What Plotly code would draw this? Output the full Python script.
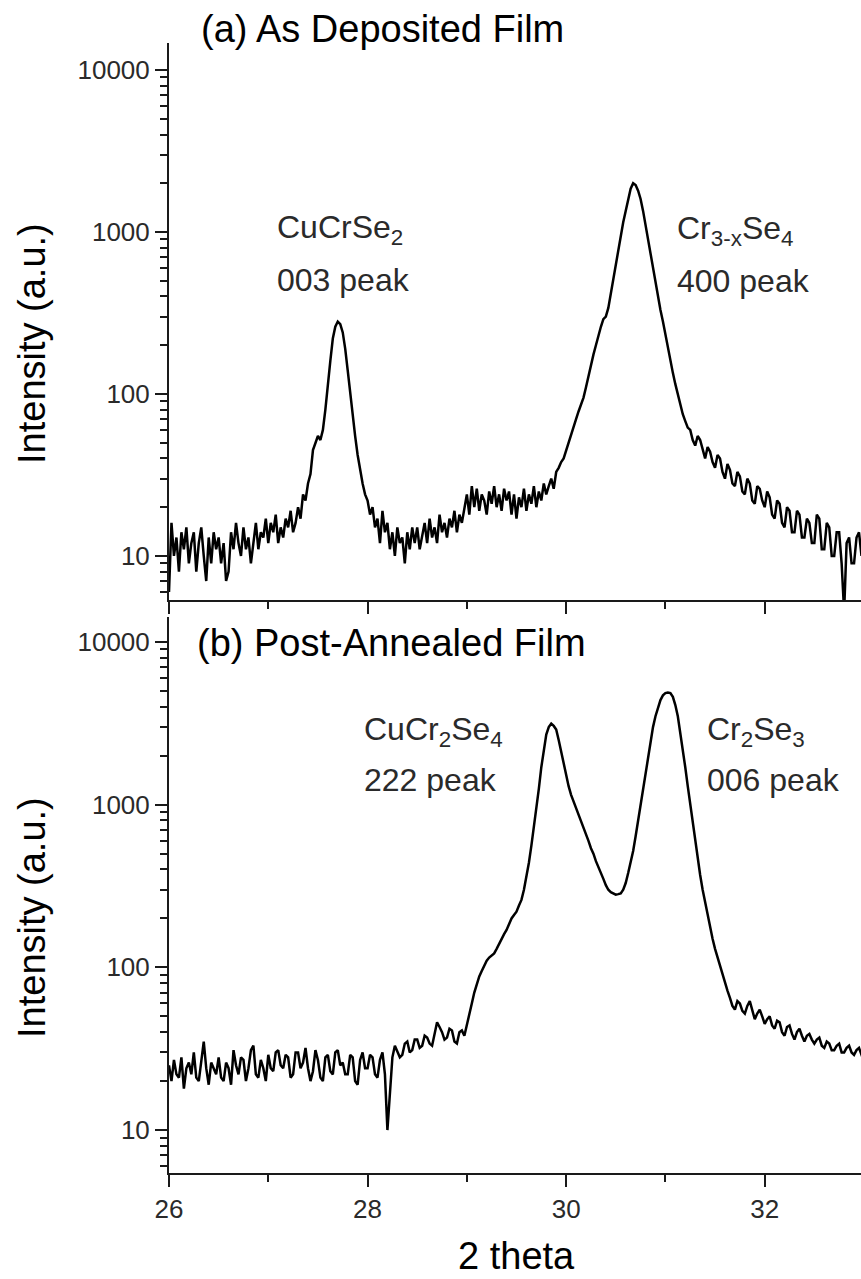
import numpy as np
import plotly.graph_objects as go

# ---- data ----
two_theta = np.round(np.arange(26.0, 33.0001, 0.025), 3)

intensity_as_deposited = [
    6, 16, 10, 13, 8, 14, 11, 15, 9, 12, 14, 8, 12, 15, 10, 7, 13, 9, 14, 11,
    13, 9, 12, 7, 8, 14, 11, 16, 12, 10, 15, 11, 13, 9, 12, 16, 11, 14, 13, 17,
    12, 16, 14, 18, 12, 15, 13, 17, 15, 19, 14, 16, 20, 17, 24, 22, 28, 32, 45, 50,
    55, 52, 60, 80, 120, 160, 220, 260, 280, 270, 240, 190, 140, 100, 75, 55, 42, 34, 28, 24,
    22, 18, 20, 15, 17, 12, 19, 14, 16, 11, 14, 10, 15, 12, 13, 9, 14, 11, 15, 12,
    15, 11, 13, 16, 12, 17, 13, 15, 12, 18, 14, 16, 13, 17, 15, 19, 14, 18, 16, 20,
    24, 18, 27, 20, 26, 19, 24, 22, 18, 25, 21, 27, 20, 24, 19, 26, 22, 25, 18, 24,
    17, 23, 20, 26, 19, 24, 21, 27, 20, 25, 22, 28, 24, 27, 30, 26, 33, 35, 38, 40,
    45, 50, 55, 62, 70, 78, 85, 95, 110, 130, 150, 175, 200, 230, 260, 290, 300, 340, 420, 500,
    620, 780, 950, 1150, 1350, 1600, 1850, 2000, 1950, 1800, 1600, 1350, 1100, 920, 750, 600, 480, 400, 330, 280,
    230, 190, 160, 135, 115, 100, 85, 75, 68, 62, 60, 52, 48, 55, 52, 45, 40, 47, 44, 38,
    35, 42, 40, 33, 30, 37, 34, 28, 27, 33, 31, 25, 24, 30, 28, 22, 21, 27, 26, 22,
    20, 25, 23, 18, 17, 22, 21, 16, 15, 20, 19, 14, 14, 19, 18, 13, 13, 17, 16, 12,
    12, 18, 17, 11, 11, 16, 15, 10, 10, 14, 14, 9, 4.5, 12, 13, 9, 9, 13, 14, 10,
    12,
]

intensity_post_annealed = [
    25, 20, 27, 22, 21, 28, 18, 24, 26, 22, 30, 21, 20, 27, 35, 24, 19, 26, 24, 22,
    28, 21, 20, 26, 24, 19, 31, 25, 22, 28, 27, 20, 24, 31, 33, 22, 21, 27, 24, 20,
    29, 24, 23, 30, 31, 25, 24, 29, 28, 21, 22, 30, 30, 24, 26, 32, 24, 20, 23, 31,
    27, 21, 20, 28, 29, 23, 22, 30, 31, 25, 26, 22, 22, 29, 28, 20, 19, 27, 30, 24,
    24, 29, 28, 22, 21, 27, 30, 22, 10, 18, 28, 33, 30, 28, 29, 34, 35, 30, 31, 36,
    36, 32, 33, 38, 37, 34, 33, 40, 46, 43, 40, 36, 37, 42, 41, 35, 34, 40, 41, 38,
    45, 52, 60, 70, 80, 88, 95, 102, 110, 115, 118, 122, 130, 140, 150, 160, 170, 185, 200, 210,
    220, 240, 260, 300, 360, 440, 560, 720, 950, 1250, 1700, 2200, 2700, 3000, 3150, 3050, 2900, 2500, 2100, 1750,
    1500, 1300, 1150, 1050, 950, 860, 780, 720, 650, 600, 540, 500, 450, 410, 380, 350, 320, 300, 290, 285,
    280, 282, 285, 300, 330, 380, 440, 520, 640, 800, 1000, 1250, 1600, 2000, 2500, 3000, 3500, 4000, 4400, 4700,
    4850, 4900, 4850, 4600, 4100, 3500, 2800, 2200, 1700, 1300, 1000, 780, 600, 470, 370, 300, 250, 210, 175, 150,
    130, 115, 100, 90, 80, 72, 65, 58, 55, 62, 60, 54, 52, 58, 62, 55, 48, 52, 55, 50,
    45, 48, 50, 44, 42, 47, 46, 40, 38, 43, 44, 39, 36, 40, 42, 38, 35, 38, 39, 36,
    34, 36, 37, 33, 32, 35, 34, 31, 31, 33, 34, 30, 30, 32, 33, 30, 29, 31, 32, 29,
    30,
]

panel_titles = ["(a) As Deposited Film", "(b) Post-Annealed Film"]
x_major_ticks = [26, 28, 30, 32]
x_minor_ticks = [27, 29, 31]
y_major_ticks = [10, 100, 1000, 10000]
y_major_text = ["10", "100", "1000", "10000"]
y_minor_ticks = [k * 10 ** d for d in range(0, 5) for k in range(2, 10)]

# ---- layout helpers (pixel -> paper) ----
W, H = 861, 1279
ML, MR, MT, MB = 169, 0, 43, 106
PW, PH = W - ML - MR, H - MT - MB


def px(x):
    return (x - ML) / PW


def py(y):
    return (H - MB - y) / PH


FONT = "Liberation Sans, Arial, sans-serif"
INK = "#1a1a1a"
TXT = "#2a2a2a"

fig = go.Figure()
fig.add_trace(go.Scatter(x=two_theta, y=intensity_as_deposited, mode="lines",
                         line=dict(color="black", width=2.5), xaxis="x", yaxis="y",
                         showlegend=False))
fig.add_trace(go.Scatter(x=two_theta, y=intensity_post_annealed, mode="lines",
                         line=dict(color="black", width=2.5), xaxis="x2", yaxis="y2",
                         showlegend=False))

common_x = dict(range=[26, 32.97], showgrid=False, zeroline=False, showline=True,
                linecolor=INK, linewidth=2, ticks="outside", ticklen=12, tickwidth=2,
                tickcolor=INK, tickmode="array", tickvals=x_major_ticks,
                ticktext=[str(v) for v in x_major_ticks],
                tickfont=dict(family=FONT, size=26, color=TXT),
                minor=dict(tickmode="array", tickvals=x_minor_ticks, ticks="outside",
                           ticklen=7, tickwidth=2, tickcolor=INK, showgrid=False))
common_y = dict(type="log", showgrid=False, zeroline=False, showline=True,
                linecolor=INK, linewidth=2, ticks="outside", ticklen=12, tickwidth=2,
                tickcolor=INK, tickmode="array", tickvals=y_major_ticks,
                ticktext=y_major_text,
                tickfont=dict(family=FONT, size=26, color=TXT),
                minor=dict(tickmode="array", tickvals=y_minor_ticks, ticks="outside",
                           ticklen=7, tickwidth=2, tickcolor=INK, showgrid=False))

fig.update_layout(
    width=W, height=H,
    margin=dict(l=ML, r=MR, t=MT, b=MB),
    paper_bgcolor="white", plot_bgcolor="white",
    xaxis=dict(common_x, anchor="y", showticklabels=False),
    xaxis2=dict(common_x, anchor="y2"),
    yaxis=dict(common_y, domain=[py(600), py(43)], range=[0.728, 4.167], anchor="x"),
    yaxis2=dict(common_y, domain=[py(1173), py(617)], range=[0.736, 4.154], anchor="x2"),
)

annots = []


def add_text(text, x, y, size, xanchor="left", angle=0, color=TXT):
    annots.append(dict(text=text, x=px(x), y=py(y), xref="paper", yref="paper",
                       xanchor=xanchor, yanchor="middle", showarrow=False,
                       textangle=angle,
                       font=dict(family=FONT, size=size, color=color)))


add_text(panel_titles[0], 199, 29, 38, color="black")
add_text(panel_titles[1], 195, 643, 38, color="black")

add_text("CuCrSe<sub>2</sub>", 275, 229, 32)
add_text("003 peak", 275, 280, 32)
add_text("Cr<sub>3-x</sub>Se<sub>4</sub>", 675, 231, 32)
add_text("400 peak", 675, 281, 32)
add_text("CuCr<sub>2</sub>Se<sub>4</sub>", 362, 731, 32)
add_text("222 peak", 362, 780, 32)
add_text("Cr<sub>2</sub>Se<sub>3</sub>", 705, 731, 32)
add_text("006 peak", 705, 780, 32)

add_text("Intensity (a.u.)", 32, 344, 38, xanchor="center", angle=-90, color="black")
add_text("Intensity (a.u.)", 32, 918, 38, xanchor="center", angle=-90, color="black")
add_text("2 theta", 516, 1256, 38, xanchor="center", color="black")

fig.update_layout(annotations=annots)
fig.write_html("out.html")
